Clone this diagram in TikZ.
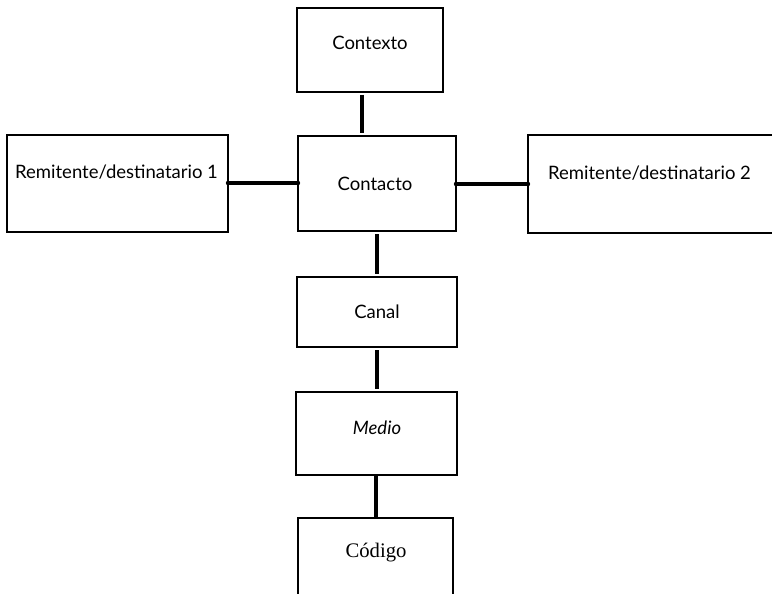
\documentclass[tikz,border=0pt]{standalone}
\usepackage{fontspec}
\setmainfont{Lato}
\newfontfamily\serifcod{Liberation Serif}
\begin{document}
\begin{tikzpicture}[x=1pt,y=-1pt,
  box/.style={draw=black, line width=1.3pt, inner sep=0pt, outer sep=0pt},
  lbl/.style={inner sep=0pt, font=\fontsize{18.5}{22}\selectfont},
  conn/.style={line width=3.6pt},
  hconn/.style={line width=3.2pt}]
\useasboundingbox (0,0) rectangle (772,594);
\clip (0,0) rectangle (772,594);
% boxes
\node[box, minimum width=146pt, minimum height=84pt] (ctx) at (370,50) {};
\node[lbl] (ctxt) at (370,43) {Contexto};
\node[box, minimum width=158pt, minimum height=95pt] (cto) at (377,183.5) {};
\node[lbl] (ctot) at (375,184) {Contacto};
\node[box, minimum width=221pt, minimum height=97pt] (r1) at (117.5,183.5) {};
\node[lbl, anchor=west] (r1t) at (15,172) {Remitente/destinatario 1};
\node[box, minimum width=262pt, minimum height=98pt] (r2) at (659,184) {};
\node[lbl, anchor=west] (r2t) at (548,173) {Remitente/destinatario 2};
\node[box, minimum width=160pt, minimum height=70pt] (can) at (377,312) {};
\node[lbl] (cant) at (377,312) {Canal};
\node[box, minimum width=161pt, minimum height=83pt] (med) at (376.5,433.5) {};
\node[lbl] (medt) at (377,428) {\itshape Medio};
\node[box, minimum width=155pt, minimum height=92pt] (cod) at (375.5,564) {};
\node[inner sep=0pt, font=\serifcod\fontsize{20.7}{24}\selectfont] (codt) at (376,553) {Código};
% connectors
\draw[conn, shorten <=3pt, shorten >=3pt] (ctx.south -| 362,0) -- (cto.north -| 362,0);
\draw[conn, shorten <=3pt, shorten >=3pt] (cto.south -| 377,0) -- (can.north -| 377,0);
\draw[conn, shorten <=3pt, shorten >=3pt] (can.south -| 377,0) -- (med.north -| 377,0);
\draw[conn] (med.south -| 376,0) -- (cod.north -| 376,0);
\draw[hconn] (r1.east |- 0,183) -- (cto.west |- 0,183);
\draw[hconn] (cto.east |- 0,184) -- (r2.west |- 0,184);
\fill (r1.east |- 0,183) circle (2.2pt) (cto.west |- 0,183) circle (2.2pt);
\fill (cto.east |- 0,184) circle (2.2pt) (r2.west |- 0,184) circle (2.2pt);
\end{tikzpicture}
\end{document}
